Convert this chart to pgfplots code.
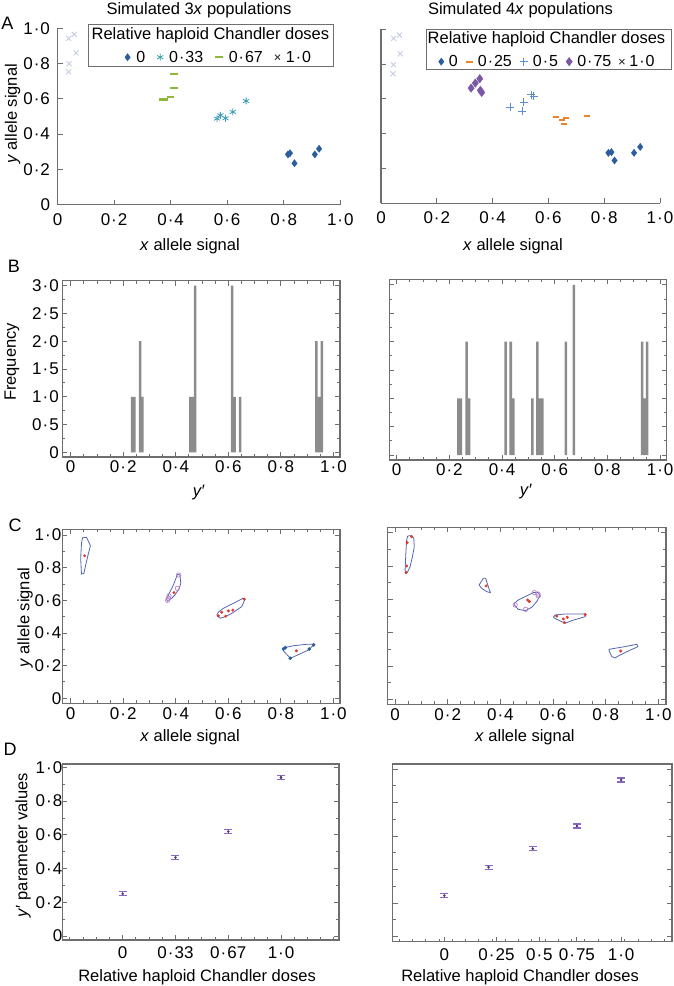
\documentclass[border=0pt]{standalone}
\usepackage{fontspec}
\setmainfont{Liberation Sans}
\usepackage{pgfplots}
\pgfplotsset{compat=1.18}

\definecolor{axgray}{HTML}{6E6E6E}
\definecolor{dblue}{HTML}{2B5C9E}
\definecolor{teal3}{HTML}{3A9DB5}
\definecolor{green3}{HTML}{8DB83A}
\definecolor{lav}{HTML}{C5CDE4}
\definecolor{orng}{HTML}{E8832E}
\definecolor{sblue}{HTML}{5B8ED2}
\definecolor{purp}{HTML}{7B58A6}
\definecolor{bargray}{HTML}{8C8C8C}
\definecolor{polyblue}{HTML}{5566B0}
\definecolor{ptred}{HTML}{E03A30}
\definecolor{ppurp}{HTML}{B683C9}
\definecolor{errpurp}{HTML}{8A68C0}

\newcommand{\md}{\kern1pt·\kern1pt}
\newcommand{\tickfont}{\fontsize{17}{19}\selectfont}
\newcommand{\labfont}{\fontsize{16.5}{18}\selectfont}
\newcommand{\legfont}{\fontsize{16}{18}\selectfont}

\pgfplotsset{
  base/.style={scale only axis, anchor=south west,
    axis line style={axgray, line width=1.3pt},
    every tick/.style={axgray, line width=0.9pt},
    major tick length=5pt, minor tick length=3pt,
    tick align=inside,
    tick label style={font=\tickfont},
    label style={font=\labfont},
  },
  xunit/.style={xtick={0,0.2,0.4,0.6,0.8,1}, xticklabels={0,0\md2,0\md4,0\md6,0\md8,1\md0}},
  yunit/.style={ytick={0,0.2,0.4,0.6,0.8,1}, yticklabels={0,0\md2,0\md4,0\md6,0\md8,1\md0}},
  poly/.style={polyblue, line width=0.8pt, mark=none},
  redpt/.style={only marks, mark=*, mark size=1.3pt, ptred},
  purpc/.style={only marks, mark=o, mark size=2.2pt, ppurp, line width=0.7pt},
  errst/.style={only marks, mark=*, mark size=1.1pt, color=errpurp!60!black,
    error bars/.cd, y dir=both, y explicit,
    error bar style={color=errpurp, line width=1.2pt},
    error mark options={color=errpurp, rotate=90, mark size=4pt, line width=1.2pt}},
}

\begin{document}
\begin{tikzpicture}
\useasboundingbox (0pt,0pt) rectangle (673pt,-986pt);

% ---------------- A left
\begin{axis}[base, at={(57.5pt,-204.7pt)}, width=282.8pt, height=176.4pt,
  xmin=0, xmax=1, ymin=0, ymax=1, axis lines*=left,
  xunit, yunit,
  xticklabel style={yshift=-5pt}, yticklabel style={xshift=-4pt},
  xlabel={\textit{x} allele signal},
  xlabel style={at={(axis description cs:0.4685,-0.234)}, anchor=center},
  ylabel={\textit{y} allele signal},
  ylabel style={at={(axis description cs:-0.159,0.514)}, anchor=center},
  legend columns=-1, legend cell align=left,
  legend style={draw=none, fill=none, at={(axis description cs:0.571,0.836)}, anchor=center,
    font=\legfont,
    /tikz/every odd column/.append style={column sep=4pt},
    /tikz/every even column/.append style={column sep=10pt}},
]
\addplot[only marks, mark=diamond*, mark size=3.6pt, color=dblue]
  coordinates {(0.815,0.285)(0.822,0.292)(0.838,0.235)(0.910,0.285)(0.925,0.317)};
\addlegendentry{0}
\addplot[only marks, mark=asterisk, mark size=3.5pt, color=teal3, line width=0.8pt]
  coordinates {(0.564,0.488)(0.576,0.507)(0.594,0.490)(0.620,0.526)(0.667,0.588)};
\addlegendentry{0\md33}
\addplot[only marks, mark=-, mark size=3.8pt, color=green3, line width=2.2pt]
  coordinates {(0.413,0.740)(0.413,0.662)(0.400,0.609)(0.378,0.596)(0.372,0.596)};
\addlegendentry{0\md67}
\addplot[only marks, mark=x, mark size=3.5pt, color=lav, line width=0.9pt, forget plot]
  coordinates {(0.039,0.943)(0.059,0.966)(0.066,0.861)(0.041,0.800)(0.039,0.753)};
\addlegendimage{only marks, mark=x, mark size=3.6pt, black!80, line width=0.9pt}
\addlegendentry{1\md0}
\end{axis}

% ---------------- A right
\begin{axis}[base, at={(381pt,-203.3pt)}, width=279pt, height=174pt,
  xmin=0, xmax=1, ymin=0, ymax=1, axis lines*=left,
  xunit, ytick={0,0.2,0.4,0.6,0.8,1}, yticklabels={},
  xticklabel style={yshift=-5pt},
  xlabel={\textit{x} allele signal},
  xlabel style={at={(axis description cs:0.473,-0.245)}, anchor=center},
  legend columns=-1, legend cell align=left,
  legend style={draw=none, fill=none, at={(axis description cs:0.597,0.814)}, anchor=center,
    font=\legfont,
    /tikz/every odd column/.append style={column sep=3pt},
    /tikz/every even column/.append style={column sep=6pt}},
]
\addplot[only marks, mark=diamond*, mark size=3.6pt, color=dblue]
  coordinates {(0.815,0.290)(0.826,0.294)(0.837,0.246)(0.907,0.290)(0.929,0.324)};
\addlegendentry{0}
\addplot[only marks, mark=-, mark size=3pt, color=orng, line width=1.8pt, forget plot]
  coordinates {(0.626,0.494)(0.650,0.480)(0.655,0.458)(0.662,0.488)(0.737,0.503)};
\addlegendimage{only marks, mark=-, mark size=3.5pt, color=orng, line width=2pt}
\addlegendentry{0\md25}
\addplot[only marks, mark=+, mark size=4pt, color=sblue, line width=0.9pt]
  coordinates {(0.464,0.553)(0.506,0.529)(0.512,0.580)(0.538,0.624)(0.548,0.615)};
\addlegendentry{0\md5}
\addplot[only marks, mark=diamond*, mark size=4.2pt, color=purp]
  coordinates {(0.323,0.662)(0.338,0.691)(0.354,0.716)(0.356,0.649)(0.361,0.637)};
\addlegendentry{0\md75}
\addplot[only marks, mark=x, mark size=3.5pt, color=lav, line width=0.9pt, forget plot]
  coordinates {(0.045,0.948)(0.066,0.967)(0.069,0.859)(0.045,0.796)(0.043,0.744)};
\addlegendimage{only marks, mark=x, mark size=3.6pt, black!80, line width=0.9pt}
\addlegendentry{1\md0}
\end{axis}

% ---------------- B left
\begin{axis}[base, at={(62.3pt,-457pt)}, width=277.7pt, height=176.3pt,
  xmin=-0.032, xmax=1.025, ymin=-0.085, ymax=3.09,
  xunit, minor x tick num=3,
  ytick={0,0.5,1,1.5,2,2.5,3}, yticklabels={0,0\md5,1\md0,1\md5,2\md0,2\md5,3\md0},
  minor y tick num=1,
  xlabel={\textit{y}′},
  xlabel style={at={(axis description cs:0.492,-0.199)}, anchor=center},
  ylabel={Frequency},
  ylabel style={at={(axis description cs:-0.181,0.539)}, anchor=center},
]
\addplot[ybar, bar width=0.0095, fill=bargray, draw=none]
  coordinates {(0.2338,1)(0.2427,1)(0.2643,2)(0.2731,1)
               (0.455,1)(0.464,1)(0.474,3)
               (0.614,3)(0.624,1)(0.6445,1)
               (0.935,2)(0.9455,1)(0.956,2)};
\end{axis}

% ---------------- B right
\begin{axis}[base, at={(389.3pt,-460pt)}, width=277.4pt, height=180.7pt,
  xmin=-0.028, xmax=1.025, ymin=-0.088, ymax=3.099,
  xunit, minor x tick num=3,
  ytick={0,0.5,1,1.5,2,2.5,3}, yticklabels={}, minor y tick num=1,
  xlabel={\textit{y}′},
  xlabel style={at={(axis description cs:0.493,-0.177)}, anchor=center},
]
\addplot[ybar, bar width=0.0095, fill=bargray, draw=none]
  coordinates {(0.234,1)(0.2435,1)(0.2657,2)(0.2752,1)
               (0.414,2)(0.433,2)(0.443,1)
               (0.515,1)(0.534,2)(0.544,1)(0.553,1)
               (0.6427,2)(0.673,3)
               (0.932,2)(0.941,1)(0.9505,2)};
\end{axis}

% ---------------- C left
\begin{axis}[base, at={(62.3pt,-703.3pt)}, width=277.7pt, height=174pt,
  xmin=-0.032, xmax=1.025, ymin=-0.031, ymax=1.035,
  xunit, yunit, minor x tick num=3, minor y tick num=1,
  xticklabel style={yshift=-1pt}, yticklabel style={xshift=2.5pt},
  xlabel={\textit{x} allele signal},
  xlabel style={at={(axis description cs:0.46,-0.194)}, anchor=center},
  ylabel={\textit{y} allele signal},
  ylabel style={at={(axis description cs:-0.134,0.49)}, anchor=center},
]
\addplot[poly] coordinates {(0.045,0.983)(0.060,0.986)(0.067,0.963)(0.075,0.935)(0.066,0.878)(0.057,0.816)(0.050,0.765)(0.041,0.761)(0.038,0.857)(0.041,0.949)(0.045,0.983)};
\addplot[poly] coordinates {(0.406,0.759)(0.416,0.755)(0.419,0.704)(0.413,0.673)(0.397,0.633)(0.384,0.612)(0.368,0.596)(0.365,0.608)(0.375,0.643)(0.391,0.694)(0.403,0.745)(0.406,0.759)};
\addplot[poly] coordinates {(0.556,0.510)(0.569,0.490)(0.588,0.500)(0.613,0.520)(0.651,0.561)(0.664,0.608)(0.655,0.612)(0.620,0.582)(0.581,0.551)(0.562,0.527)(0.556,0.510)};
\addplot[poly] coordinates {(0.808,0.310)(0.810,0.290)(0.836,0.245)(0.906,0.296)(0.927,0.331)(0.899,0.331)(0.849,0.322)(0.813,0.310)(0.808,0.310)};
\addplot[purpc] coordinates {(0.411,0.755)(0.406,0.673)(0.374,0.627)(0.372,0.612)(0.369,0.600)};
\addplot[only marks, mark=*, mark size=1.6pt, dblue] coordinates {(0.810,0.302)(0.817,0.310)(0.836,0.245)(0.908,0.302)(0.925,0.327)};
\addplot[redpt] coordinates {(0.053,0.873)(0.393,0.647)(0.562,0.505)(0.575,0.527)(0.590,0.503)(0.600,0.535)(0.617,0.540)(0.660,0.607)(0.859,0.290)};
\end{axis}

% ---------------- C right
\begin{axis}[base, at={(387.7pt,-704.3pt)}, width=278.3pt, height=177pt,
  xmin=-0.028, xmax=1.029, ymin=-0.03, ymax=1.032,
  xunit, ytick={0,0.2,0.4,0.6,0.8,1}, yticklabels={}, minor x tick num=3, minor y tick num=1,
  xticklabel style={yshift=-1pt},
  xlabel={\textit{x} allele signal},
  xlabel style={at={(axis description cs:0.493,-0.185)}, anchor=center},
]
\addplot[poly] coordinates {(0.048,0.980)(0.063,0.982)(0.071,0.966)(0.073,0.916)(0.066,0.856)(0.057,0.796)(0.048,0.766)(0.041,0.756)(0.038,0.776)(0.041,0.876)(0.044,0.956)(0.048,0.980)};
\addplot[poly] coordinates {(0.335,0.726)(0.344,0.726)(0.352,0.686)(0.362,0.640)(0.348,0.646)(0.329,0.666)(0.319,0.686)(0.335,0.726)};
\addplot[poly] coordinates {(0.453,0.566)(0.468,0.540)(0.494,0.532)(0.519,0.552)(0.538,0.586)(0.551,0.626)(0.542,0.642)(0.525,0.640)(0.494,0.616)(0.468,0.596)(0.453,0.576)(0.453,0.566)};
\addplot[poly] coordinates {(0.601,0.492)(0.614,0.480)(0.646,0.456)(0.671,0.472)(0.722,0.496)(0.725,0.512)(0.696,0.512)(0.646,0.512)(0.608,0.506)(0.601,0.492)};
\addplot[poly] coordinates {(0.813,0.292)(0.823,0.256)(0.835,0.248)(0.848,0.260)(0.873,0.280)(0.922,0.316)(0.918,0.330)(0.873,0.316)(0.835,0.306)(0.813,0.300)(0.813,0.292)};
\addplot[purpc] coordinates {(0.456,0.566)(0.496,0.540)(0.529,0.640)(0.542,0.632)(0.544,0.620)};
\addplot[redpt] coordinates {(0.063,0.976)(0.046,0.940)(0.044,0.800)(0.042,0.760)(0.346,0.680)(0.504,0.596)(0.510,0.586)(0.614,0.500)(0.639,0.482)(0.643,0.460)(0.654,0.492)(0.722,0.508)(0.857,0.290)};
\end{axis}

% ---------------- D left
\begin{axis}[base, at={(62.3pt,-940pt)}, width=276.7pt, height=176pt,
  xmin=-1.144, xmax=4.098, ymin=-0.024, ymax=1.02,
  xtick={0,1,2,3}, xticklabels={0,0\md33,0\md67,1\md0},
  minor xtick={-1,-0.75,...,4}, xtick pos=left,
  yunit, minor y tick num=1,
  xticklabel style={yshift=-3pt}, yticklabel style={xshift=3.5pt},
  xlabel={Relative haploid Chandler doses},
  xlabel style={at={(axis description cs:0.487,-0.21)}, anchor=center},
  ylabel={\textit{y}′ parameter values},
  ylabel style={at={(axis description cs:-0.142,0.54)}, anchor=center},
]
\addplot[errst]
  coordinates {(0,0.25) +- (0,0.012) (1,0.465) +- (0,0.012) (2,0.62) +- (0,0.012) (3,0.94) +- (0,0.012)};
\end{axis}

% ---------------- D right
\begin{axis}[base, at={(392.7pt,-941.7pt)}, width=279.3pt, height=177.7pt,
  xmin=-1.167, xmax=5.15, ymin=-0.03, ymax=1.03,
  xtick={0,1.18,2.15,3.0,4.0}, xticklabels={0,0\md25,0\md5,0\md75,1\md0},
  minor xtick={-1.02,-0.72,...,5.0}, xtick pos=left,
  ytick={0,0.2,0.4,0.6,0.8,1}, yticklabels={}, minor y tick num=1,
  xticklabel style={yshift=-3pt},
  xlabel={Relative haploid Chandler doses},
  xlabel style={at={(axis description cs:0.456,-0.199)}, anchor=center},
]
\addplot[errst]
  coordinates {(0,0.245) +- (0,0.012) (1,0.415) +- (0,0.012) (2,0.525) +- (0,0.012) (3,0.66) +- (0,0.012) (4,0.935) +- (0,0.012)};
\end{axis}

% ---------------- titles, legend frames, panel letters
\node[font=\labfont, anchor=base] at (199pt,-14.5pt) {Simulated 3\textit{x} populations};
\node[font=\labfont, anchor=base] at (520.5pt,-14.5pt) {Simulated 4\textit{x} populations};

\draw[axgray, line width=1pt] (88pt,-24pt) rectangle (333pt,-66pt);
\node[font=\labfont] at (210.4pt,-35pt) {Relative haploid Chandler doses};
\draw[axgray, line width=1pt] (426pt,-29.3pt) rectangle (671.7pt,-69.3pt);
\node[font=\labfont] at (546.5pt,-39pt) {Relative haploid Chandler doses};

\node[font=\fontsize{18}{20}\selectfont] at (7.5pt,-23.5pt) {A};
\node[font=\fontsize{18}{20}\selectfont] at (14pt,-266.5pt) {B};
\node[font=\fontsize{18}{20}\selectfont] at (15pt,-525pt) {C};
\node[font=\fontsize{18}{20}\selectfont] at (10pt,-749pt) {D};
\end{tikzpicture}
\end{document}
